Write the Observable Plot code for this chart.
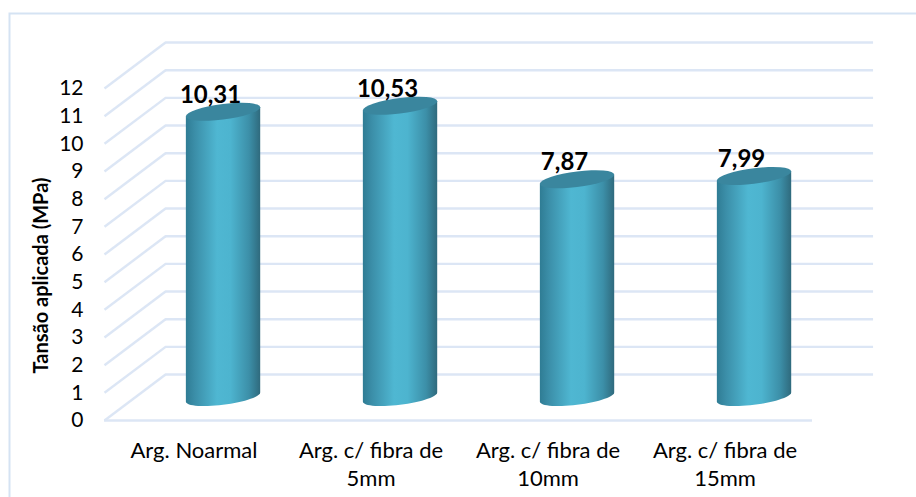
<!DOCTYPE html>
<html><head><meta charset="utf-8">
<script src="https://cdn.jsdelivr.net/npm/d3@7"></script>
<script src="https://cdn.jsdelivr.net/npm/@observablehq/plot@0.6"></script>
<style>html,body{margin:0;padding:0;background:#fff;overflow:hidden}svg{display:block}</style>
</head><body><div id="c"></div>
<script>
const categories = [["Arg. Noarmal"],["Arg. c/ fibra de","5mm"],["Arg. c/ fibra de","10mm"],["Arg. c/ fibra de","15mm"]];
const values = [10.31,10.53,7.87,7.99];
const labels = ["10,31","10,53","7,87","7,99"];
const ticks = [0,1,2,3,4,5,6,7,8,9,10,11,12];
const depthX = 0.345, depthY = 1.66;   // wall offset in data units
const halfW = 0.21;
const idx = categories.map((_,i)=>i);
const font = "Lato, Carlito, sans-serif";
const grid = "#dce6f5";
const tilt = 7, capRy = 7.8;
const rows = idx.map(i=>({i,v:values[i],l:labels[i],cx:i+depthX/2,by:depthY/2,ty:values[i]+depthY/2}));

const skew = Math.tan(tilt*Math.PI/180);
function cylinderBody(index, scales, vals, dims, ctx, next){
  const g = next(index, scales, vals, dims, ctx);
  g.querySelectorAll("rect").forEach(r=>{
    const x0=+r.getAttribute("x"), w=+r.getAttribute("width");
    const y0=+r.getAttribute("y"), h=+r.getAttribute("height");
    const rx=w/2, cx=x0+rx, k=rx*skew, bot=y0+h, pts=[[x0,y0+k]];
    for(let a=180;a>=0;a-=6){
      const t=a*Math.PI/180;
      pts.push([cx+rx*Math.cos(t), bot+capRy*Math.sin(t)-k*Math.cos(t)]);
    }
    pts.push([x0+w,y0-k]);
    const p=document.createElementNS("http://www.w3.org/2000/svg","path");
    p.setAttribute("d",d3.line()(pts)+"Z");
    p.setAttribute("fill",r.getAttribute("fill")||"url(#cyl)");
    r.replaceWith(p);
  });
  return g;
}
function caps(){
  return (index,{x,y})=>{
    const g=d3.create("svg:g");
    for(const r of rows){
      const cx=x(r.cx), rx=(x(r.cx+halfW)-x(r.cx-halfW))/2, cy=y(r.ty);
      g.append("ellipse").attr("rx",rx).attr("ry",capRy)
       .attr("transform",`translate(${cx} ${cy}) skewY(${-tilt})`)
       .attr("fill","#3a869e");
    }
    return g.node();
  };
}
const plot = Plot.plot({
  width:916,height:497,
  marginLeft:0,marginRight:0,marginTop:0,marginBottom:0,
  x:{type:"linear",domain:[-0.5,3.5],range:[104,812],axis:null},
  y:{type:"linear",domain:[0,12],range:[420,88],axis:null},
  marks:[
    ()=>{const s=d3.create("svg:defs");const g=s.append("linearGradient").attr("id","cyl");
      [[0,"#2f7c94"],[.12,"#3b8ea8"],[.42,"#4fb7d2"],[.6,"#4db4cf"],[.85,"#3c8fa8"],[1,"#2f6a7d"]]
      .forEach(([o,c])=>g.append("stop").attr("offset",o).attr("stop-color",c));return s.node();},
    // frame: only top and left edges fall inside the picture
    Plot.frame({stroke:"#d5e3f3",strokeWidth:2,insetLeft:9,insetTop:13,insetRight:-6,insetBottom:-6}),
    // back wall grid
    Plot.ruleY(ticks,{y:d=>d+depthY,x1:-0.5+depthX,x2:3.5+depthX,stroke:grid,strokeWidth:2.4}),
    // side wall diagonals
    Plot.link(ticks,{x1:-0.5,y1:d=>d,x2:-0.5+depthX,y2:d=>d+depthY,stroke:grid,strokeWidth:2.4}),
    // floor
    Plot.ruleY([0],{x1:-0.5,x2:3.5,stroke:grid,strokeWidth:2.4}),
    // cylinders
    Plot.rectY(rows,{x1:d=>d.cx-halfW,x2:d=>d.cx+halfW,y1:d=>d.by,y2:d=>d.ty,fill:"url(#cyl)",render:cylinderBody}),
    caps(),
    // value labels
    Plot.text(rows,{x:"cx",y:"ty",text:"l",dx:-13,dy:-17,fontSize:24,fontWeight:700,fill:"#000",fontFamily:font}),
    // y ticks
    Plot.text(ticks,{x:-0.5,y:d=>d,text:d=>String(d),textAnchor:"end",dx:-21,fontSize:21,fill:"#000",fontFamily:font}),
    // x labels
    Plot.text(idx,{x:d=>d,y:0,text:d=>categories[d].join("\n"),lineHeight:1.27,lineAnchor:"top",dy:18,dx:1,fontSize:22,fill:"#000",fontFamily:font}),
    // y title
    Plot.text(["Tansão aplicada (MPa)"],{x:-0.5,y:5.24,text:d=>d,rotate:-90,dx:-63,fontSize:20,fontWeight:700,fill:"#000",fontFamily:font})
  ]
});
document.getElementById("c").append(plot);
</script></body></html>
